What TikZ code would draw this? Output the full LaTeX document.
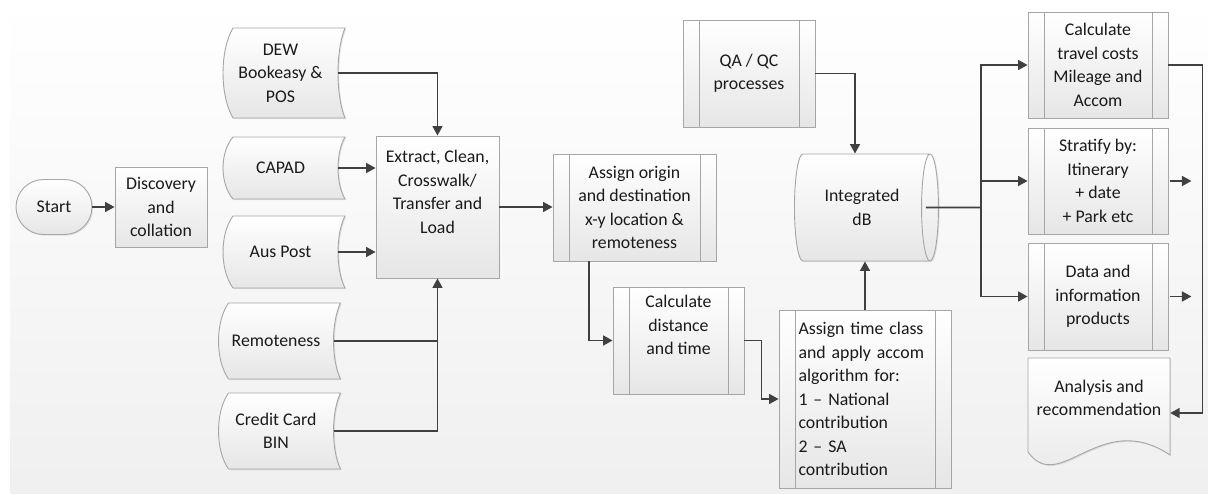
\documentclass[tikz,border=0pt]{standalone}
\usepackage{fontspec}
\setmainfont{Carlito}
\usepackage{tikz}
\usetikzlibrary{positioning,arrows.meta,shapes.geometric,shadows}

\definecolor{edgegray}{HTML}{A6A6A6}
\definecolor{linegray}{HTML}{404040}
\definecolor{txtgray}{HTML}{1A1A1A}
\definecolor{shadegray}{HTML}{E6E6E6}

\tikzset{
  boxfill/.style={draw=edgegray, line width=0.9pt, top color=white, bottom color=shadegray},
  boxshadow/.style={drop shadow={shadow xshift=1.2pt, shadow yshift=-1.2pt, opacity=.2}},
  procbox/.style={boxfill, boxshadow, rectangle, inner sep=0pt, align=center, text=txtgray},
  predef/.style={procbox, path picture={
    \draw[edgegray, line width=0.9pt] ([xshift=16pt]path picture bounding box.north west) -- ([xshift=16pt]path picture bounding box.south west);
    \draw[edgegray, line width=0.9pt] ([xshift=-16pt]path picture bounding box.north east) -- ([xshift=-16pt]path picture bounding box.south east);}},
  flow/.style={draw=linegray, line width=1.6pt, -{Triangle[length=9.5pt,width=10pt]}},
  plain/.style={draw=linegray, line width=1.6pt},
}

% stored data: #1 name, #2 x, #3 y, #4 height, #5 text
\newcommand{\datastore}[5]{
  \def\hw{57.5}
  \def\hh{#4/2}
  \path[boxfill, boxshadow] (#2-\hw+10,#3-\hh) -- (#2+\hw+7,#3-\hh)
    .. controls (#2+\hw-2.3,#3-\hh/2) and (#2+\hw-2.3,#3+\hh/2) .. (#2+\hw+7,#3+\hh)
    -- (#2-\hw+10,#3+\hh)
    .. controls (#2-\hw-3.3,#3+\hh/2) and (#2-\hw-3.3,#3-\hh/2) .. cycle;
  \node[inner sep=0pt, minimum width=115, minimum height=#4, align=center, text=txtgray] (#1) at (#2,#3) {#5};
}

\begin{document}
\begin{tikzpicture}[x=1pt, y=-1pt, font=\fontsize{17.8}{23.5}\selectfont]
\useasboundingbox (0,0) rectangle (1208,495);
\fill[top color=white, bottom color=black!6, draw=none] (10,1) rectangle (1208,493);

\node[procbox, rounded corners=27.5pt, minimum width=76, minimum height=55] (start) at (54,207) {Start};
\node[procbox, minimum width=92, minimum height=80] (disc) at (161,207) {Discovery\\and\\collation};

% data sources
\datastore{dew}{280.5}{73}{90}{DEW\\Bookeasy \&\\POS}
\datastore{capad}{280.5}{168}{62}{CAPAD}
\datastore{auspost}{280.5}{252}{72}{Aus Post}
\datastore{remote}{276}{341}{76}{Remoteness}
\datastore{credit}{276}{431}{76}{Credit Card\\BIN}

\node[procbox, minimum width=123, minimum height=142] (etl) at (437.5,207) {Extract, Clean,\\Crosswalk/\\Transfer and\\Load\\\strut};
\node[predef, minimum width=163, minimum height=107] (orig) at (634.5,207.5) {Assign origin\\and destination\\x-y location \&\\remoteness};
\node[predef, minimum width=131, minimum height=107] (dist) at (678.5,340.5) {Calculate\\distance\\and time\\\strut};
\node[predef, minimum height=178, align=left, text width=133, inner xsep=19.5] (tclass) at (865,399) {Assign time class\\and apply accom\\algorithm for:\\1 -- National\\contribution\\2 -- SA\\contribution};
\node[predef, minimum width=132, minimum height=107] (qa) at (749,73.5) {QA / QC\\processes};
\node[cylinder, boxfill, boxshadow, shape border rotate=0, aspect=0.47, minimum width=107, minimum height=144, inner sep=0pt, align=center, text=txtgray] (db) at (862,207.5) {Integrated\\dB};

% outputs
\node[predef, minimum width=140, minimum height=106] (travel) at (1098,65) {Calculate\\travel costs\\Mileage and\\Accom};
\node[predef, minimum width=140, minimum height=106] (strat) at (1098,181) {Stratify by:\\Itinerary\\+ date\\+ Park etc};
\node[predef, minimum width=140, minimum height=107] (prod) at (1098,296.5) {Data and\\information\\products};
\path[boxfill, boxshadow] (1028,358) -- (1170,358) -- (1170,455)
  .. controls (1100,408) and (1060,496) .. (1028,452) -- cycle;
\node[inner sep=0pt, minimum width=142, minimum height=110, align=center, text=txtgray] (ana) at (1099,413) {Analysis and\\recommendation\\\strut};

% connectors
\draw[flow] (start) -- (disc);
\draw[flow] (dew.east) -| (etl.north);
\draw[flow] (capad.east) -- (capad.east -| etl.west);
\draw[flow] (auspost.east) -- (auspost.east -| etl.west);
\draw[plain] (remote.east) -- (remote.east -| etl.south);
\draw[flow] (credit.east) -| (etl.south);
\draw[flow] (etl.east) -- (etl.east -| orig.west);
\draw[flow] ([xshift=-45.5pt]orig.south) |- (dist.west);
\draw[flow] (dist.east) -- ++(17,0) |- (tclass.west);
\draw[flow] (tclass.north) -- (tclass.north |- db.south);
\draw[flow] (qa.east) -| ([xshift=-7pt]db.north);
\coordinate (hub) at (981,207.5);
\draw[plain] ([xshift=-13pt]db.east) -- (hub);
\foreach \n in {travel,strat,prod}
  \draw[flow] (hub) |- (\n.west);
\draw[flow] (travel.east) -- ++(34,0) |- (ana.east);
\coordinate[right=23pt of strat.east] (stratend);
\coordinate[right=23pt of prod.east] (prodend);
\draw[flow] ([xshift=2pt]strat.east) -- (stratend);
\draw[flow] ([xshift=2pt]prod.east) -- (prodend);
\end{tikzpicture}
\end{document}
